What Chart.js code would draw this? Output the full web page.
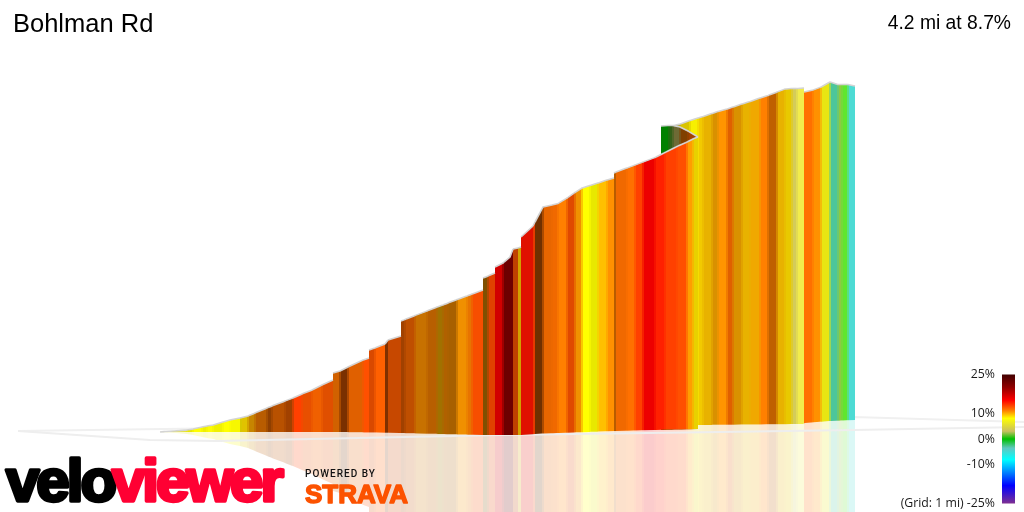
<!DOCTYPE html>
<html><head><meta charset="utf-8">
<style>html,body{margin:0;padding:0;background:#fff;overflow:hidden;width:1024px;height:512px}#main{position:absolute;left:0;top:0}#legend{position:absolute;left:880px;top:360px}</style>
</head><body>
<canvas id="main" width="1024" height="512"></canvas>
<canvas id="legend" width="135" height="158"></canvas>
<script src="https://cdn.jsdelivr.net/npm/chart.js@4"></script>
<script>
const titleText = 'Bohlman Rd';
const summaryText = '4.2 mi at 8.7%';
const legendTicks = [25, 10, 0, -10, -25];
const gridNote = '(Grid: 1 mi) ';

const frontDist = [0,50,150,270,330,420,470,530,630,700,800,820,880,950,1070,1120,1250,1330,1420,1520,1620,1730,1730,1800,1880,2030,2090,2090,2150,2250,2280,2410,2410,2450,2550,2670,2770,2830,2880,2970,3070,3120,3230,3230,3280,3350,3350,3430,3500,3530,3580,3610,3610,3730,3750,3830,3920,3980,4070,4150,4220,4300,4380,4470,4540,4540,4560,4670,4750,4830,4950,5050,5170,5270,5330,5380];
const frontElev = [0,1,2,4,6,10,12,14,20,24,28,29,32,38,48,52,62,68,76,84,94,104,118,122,130,144,148,164,168,176,184,192,222,225,233,242,250,254,258,265,272,276,284,308,312,318,330,338,350,366,368,370,390,412,420,450,454,457,468,479,488,493,498,504,508,518,520,528,534,540,549,559,571,580,586,590];
const frontGrade = [4,5,6,8,8,8,7.8,8,8,8,8.5,8.8,10,11,11.5,11.5,11.8,13,12.3,11.8,12.2,12.2,11.3,11.9,11.6,12.5,12.5,12.3,12,12,12.1,12.1,11.8,11.7,10.6,10.9,9.8,10.7,10.6,10.4,11,12.5,12.5,10.3,12.7,12.7,15,21,21,12.3,9.4,9.4,14.4,13,11.6,11.5,11.5,11,12.4,10.4,8,8,9.5,10.6,10.6,11,11.5,11.5,13,15,14,13,12.5,10.3,8.6,8.6];
const frontShade = [1,1,1,.91,1,.94,1,.94,1,.97,.85,.88,.78,.72,.56,.72,.63,1,.91,.94,.88,.88,.82,.48,.88,1,1,.85,1,.5,.78,.78,.63,.75,.78,.72,.63,.69,.66,.94,.91,.97,.97,.5,.88,.88,.82,.85,.85,.75,.82,.82,.88,.9,.44,.91,.94,1,.88,.94,1,.91,1,1,1,.72,.94,1,1,.93,1,1,1,1,.91,.91];
const frontBaseDist = [0,1800,2400,3230,3610,3830,4560,5380];
const frontBaseElev = [0,0,-2,-6,-6,-3,2,6];

const wedgeDist = [5010,5090,5130,5200,5280,5380];
const wedgeElev = [612,613,613,610,602,590];
const wedgeGrade = [0,1.5,3,11,11.8,11.8];
const wedgeShade = [.67,.5,.55,.5,.63,.63];

const upperDist = [5120,5200,5300,5380,5430,5520,5580,5670,5730,5820,5900,6000,6080,6170,6250,6320,6370,6440,6440,6530,6610,6700,6780,6820,6880,6950];
const upperElev = [612,616,623,628,631,637,641,646,650,656,661,668,673,680,686,687,687,688,680,684,690,700,695,695,695,692];
const upperGrade = [3.5,8.6,8.2,9,9.4,10,10.5,11.6,10,9.4,9.8,11,11,9.4,8.8,3.5,4.5,4.5,11.5,10.6,7,-2.8,2,1.2,-4.5,-4.5];
const upperShade = [.8,.85,.97,.95,.91,.85,1,.88,.85,.91,.94,1,.75,.91,.91,1.03,1.12,1.12,1,1,.95,1,1.05,1.2,1.03,1.03];
const upperBaseDist = [5120,5380,6430,6450,6700,6950];
const upperBaseElev = [12,14,16,18,22,24];

const groundFrontDist = [-1420,-100,570,3400,5600,6930,8640];
const groundFrontElev = [2,-16,-18,-6,0,4,10];
const groundBackDist = [-1420,400,6930,8640];
const groundBackElev = [2,7,30,20];

const scaleGrades = [25,20,15,11,8,3,0,-3.5,-8,-13,-18,-25];
const scaleColors = [[64,0,0],[144,0,0],[255,0,0],[255,128,0],[255,255,0],[200,192,96],[0,192,0],[96,200,192],[0,255,255],[0,128,255],[0,0,255],[128,48,144]];

function gradeRgb(g){
  for(let i=0;i<scaleGrades.length-1;i++){
    const a=scaleGrades[i],b=scaleGrades[i+1];
    if(g<=a&&g>=b){const t=(a-g)/(a-b);return scaleColors[i].map((c,k)=>c+(scaleColors[i+1][k]-c)*t);}
  }
  return g>25?scaleColors[0]:scaleColors[scaleColors.length-1];
}
function shaded(g,s){return gradeRgb(g).map(v=>Math.min(255,Math.round(v*s)));}
function css(c,alpha){return alpha===undefined?`rgb(${c[0]},${c[1]},${c[2]})`:`rgba(${c[0]},${c[1]},${c[2]},${alpha})`;}
function pts(xs,ys){return xs.map((x,i)=>({x,y:ys[i]}));}
function baseAt(xs,ys,d){
  for(let i=0;i<xs.length-1;i++){
    if(d<=xs[i+1]){const t=Math.max(0,(d-xs[i])/(xs[i+1]-xs[i]));return ys[i]+(ys[i+1]-ys[i])*t;}
  }
  return ys[ys.length-1];
}
// Rendering only: the picture's colour bands blur into each other over about two pixels.
function softenBands(xs,ys,gr,sh){
  const n=xs.length,X=[],Y=[],C=[];
  const col=i=>shaded(gr[i],sh[i]);
  const mix=i=>{const a=col(i-1),b=col(i);return a.map((v,k)=>Math.round((v+b[k])/2));};
  const soft=i=>i>0&&i<n-1&&xs[i]-xs[i-1]>=40&&xs[i+1]-xs[i]>=40;
  const at=(i,x)=>ys[i]+(ys[i+1]-ys[i])*(x-xs[i])/((xs[i+1]-xs[i])||1);
  for(let i=0;i<n-1;i++){
    const s=xs[i],e=xs[i+1];
    if(soft(i)){X.push(s);Y.push(ys[i]);C.push(mix(i));X.push(s+10);Y.push(at(i,s+10));C.push(col(i));}
    else{X.push(s);Y.push(ys[i]);C.push(col(i));}
    if(soft(i+1)){X.push(e-10);Y.push(at(i,e-10));C.push(mix(i+1));}
  }
  X.push(xs[n-1]);Y.push(ys[n-1]);C.push(col(n-1));
  return {X,Y,C};
}
const BASE_F=0,BASE_U=1;
const OUTLINE='#d4d4d4';
function ribbon(xs,ys,gr,sh,target,order){
  const r=softenBands(xs,ys,gr,sh);
  return {type:'line',data:pts(r.X,r.Y),order,fill:{target},pointRadius:0,borderWidth:1.6,borderColor:OUTLINE,backgroundColor:'transparent',tension:0,
    segment:{
      backgroundColor:c=>css(r.C[c.p0DataIndex]),
      borderColor:c=>c.p0.parsed.x===c.p1.parsed.x?'rgba(0,0,0,0)':OUTLINE
    }};
}
function mirror(xs,ys,gr,sh,bx,by,target,order,from){
  const r=softenBands(xs,ys,gr,sh);
  const idx=r.X.map((_,i)=>i).filter(i=>r.X[i]>=from);
  const mx=idx.map(i=>r.X[i]), my=idx.map(i=>2*baseAt(bx,by,r.X[i])-r.Y[i]), mc=idx.map(i=>r.C[i]);
  return {type:'line',data:pts(mx,my),order,fill:{target},pointRadius:0,borderWidth:0,borderColor:'rgba(0,0,0,0)',backgroundColor:'transparent',tension:0,
    segment:{backgroundColor:c=>css(mc[c.p0DataIndex],0.2)}};
}
function plain(xs,ys,order,color,w){
  return {type:'line',data:pts(xs,ys),order,fill:false,pointRadius:0,borderWidth:w,borderColor:color,tension:0};
}
const labelPlugin={id:'labels',afterDraw(chart){
  const ctx=chart.ctx;ctx.save();
  ctx.textBaseline='alphabetic';ctx.textAlign='left';ctx.fillStyle='#000';
  ctx.font='25.5px "Liberation Sans"';ctx.fillText(titleText,13,32);
  ctx.font='19.3px "Liberation Sans"';ctx.textAlign='right';ctx.fillText(summaryText,1011,29);
  ctx.textAlign='left';
  const heavy=(txt,x,y,font,ls,color,lw)=>{ctx.save();ctx.font=font;ctx.letterSpacing=ls;ctx.fillStyle=color;ctx.strokeStyle=color;ctx.lineWidth=lw;ctx.lineJoin='round';ctx.strokeText(txt,x,y);ctx.fillText(txt,x,y);ctx.restore();};
  heavy('velo',6,501,'bold 60px "Liberation Sans"','-3px','#000',3.5);
  heavy('viewer',112,501,'bold 60px "Liberation Sans"','-3px','#ff0033',3.5);
  heavy('STRAVA',305,503,'bold 26px "Liberation Sans"','0px','#fc5200',1.5);
  ctx.fillStyle='#111';ctx.font='500 10px Roboto';ctx.letterSpacing='1.0px';ctx.fillText('POWERED BY',305,477);ctx.letterSpacing='0px';
  ctx.restore();
}};
new Chart(document.getElementById('main'),{
  data:{datasets:[
    plain(frontBaseDist,frontBaseElev,1,'rgba(0,0,0,0)',0),
    plain(upperBaseDist,upperBaseElev,1,'rgba(0,0,0,0)',0),
    mirror(upperDist,upperElev,upperGrade,upperShade,upperBaseDist,upperBaseElev,BASE_U,12,5380),
    mirror(frontDist,frontElev,frontGrade,frontShade,frontBaseDist,frontBaseElev,BASE_F,11,0),
    plain(groundFrontDist,groundFrontElev,10,'#eeeeee',2),
    plain(groundBackDist,groundBackElev,10,'#f0f0f0',2),
    ribbon(upperDist,upperElev,upperGrade,upperShade,BASE_U,6),
    ribbon(wedgeDist,wedgeElev,wedgeGrade,wedgeShade,BASE_F,5),
    ribbon(frontDist,frontElev,frontGrade,frontShade,BASE_F,4)
  ]},
  options:{responsive:false,animation:false,devicePixelRatio:1,layout:{padding:0},
    plugins:{legend:{display:false},tooltip:{enabled:false},title:{display:false}},
    scales:{x:{type:'linear',display:false,min:-1600,max:8640},y:{type:'linear',display:false,min:-160,max:864}}},
  plugins:[labelPlugin]
});
new Chart(document.getElementById('legend'),{
  type:'bar',
  data:{labels:['grade'],datasets:[{data:[[-25,25]],barPercentage:1,categoryPercentage:1,borderWidth:0,
    backgroundColor:c=>{
      const a=c.chart.chartArea||{top:15,bottom:143};
      const g=c.chart.ctx.createLinearGradient(0,a.top,0,a.bottom);
      scaleGrades.forEach((v,i)=>g.addColorStop((25-v)/50,css(scaleColors[i])));
      return g;
    }}]},
  options:{responsive:false,animation:false,devicePixelRatio:1,layout:{padding:0},
    plugins:{legend:{display:false},tooltip:{enabled:false}},
    scales:{
      x:{display:false},
      y:{min:-25,max:25,border:{display:false},grid:{display:false,drawTicks:false},
        afterFit(s){s.width=122;},
        afterBuildTicks(s){s.ticks=legendTicks.map(value=>({value}));},
        ticks:{padding:7,color:'#1a1a1a',font:{family:'"Open Sans"',size:12.3},autoSkip:false,maxRotation:0,
          callback:v=>(v===-25?gridNote:'')+v+'%'}}
    }}
});
</script>
</body></html>
